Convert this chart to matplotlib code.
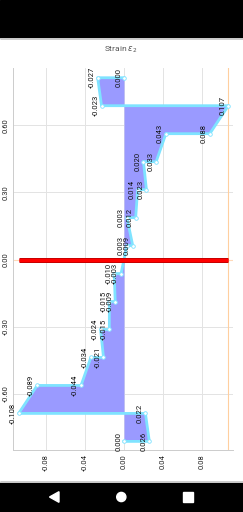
import matplotlib
matplotlib.use('Agg')
import matplotlib.pyplot as plt
from matplotlib.patches import Rectangle, Circle, Polygon

plt.rcParams['font.family'] = ['Roboto', 'DejaVu Sans']

# ply interface heights (top -> bottom) and strain eps2 at each point
heights = [0.8125, 0.8125, 0.6875, 0.6875, 0.5625, 0.5625, 0.4375, 0.4375,
           0.3125, 0.3125, 0.1875, 0.1875, 0.0625, 0.0625, -0.0625, -0.0625,
           -0.1875, -0.1875, -0.3125, -0.3125, -0.4375, -0.4375, -0.5625, -0.5625,
           -0.6875, -0.6875, -0.8125, -0.8125]
strains = [0.000, -0.027, -0.023, 0.107, 0.088, 0.043, 0.033, 0.020,
           0.023, 0.014, 0.012, 0.003, 0.009, 0.003, -0.003, -0.010,
           -0.009, -0.015, -0.015, -0.024, -0.021, -0.034, -0.044, -0.089,
           -0.108, 0.022, 0.026, 0.000]
x_ticks = [-0.08, -0.04, 0.00, 0.04, 0.08]
y_ticks = [-0.60, -0.30, 0.00, 0.30, 0.60]

W, H = 243, 512
fig = plt.figure(figsize=(W / 100, H / 100), dpi=100)

# phone chrome (status bar / nav bar)
bg = fig.add_axes([0, 0, 1, 1])
bg.set_xlim(0, W)
bg.set_ylim(H, 0)
bg.axis('off')
bg.add_patch(Rectangle((0, 0), W, 37.5, color='black'))
bg.plot([0, W], [38, 38], color='#cfcfcf', lw=0.7)
bg.add_patch(Rectangle((0, 482), W, 30, color='black'))
bg.plot([0, W], [481.5, 481.5], color='#cfcfcf', lw=0.7)
bg.add_patch(Polygon([(49.5, 497), (59, 491.7), (59, 502.3)], color='white'))
bg.add_patch(Circle((121.3, 497), 4.6, color='white'))
bg.add_patch(Rectangle((183.4, 492.3), 9.3, 9.3, color='white'))
bg.text(121, 50, r'Strain $\varepsilon_2$', ha='center', va='center',
        fontsize=6, color='#555555')

ax = fig.add_axes([13 / W, 1 - 450 / H, 220 / W, 382 / H])
ax.set_xlim(-0.1138, 0.1118)
ax.set_ylim(-0.851, 0.856)

ax.set_xticks(x_ticks)
ax.set_xticklabels(['%.2f' % v for v in x_ticks], rotation=90)
ax.set_yticks(y_ticks)
ax.set_yticklabels(['%.2f' % v for v in y_ticks], rotation=90, va='center')
ax.tick_params(length=0, labelsize=5.5, labelcolor='#222222', pad=3)
ax.grid(True, color='#e3e3e3', lw=0.7)
ax.set_axisbelow(True)
for s in ['top', 'right']:
    ax.spines[s].set_visible(False)
for s in ['left', 'bottom']:
    ax.spines[s].set_color('#cccccc')
    ax.spines[s].set_linewidth(0.7)

# limit lines
ax.axvline(max(strains), color='#ffcf9f', lw=0.8, zorder=1)
ax.axhline(0, color='#ffd9b8', lw=0.8, zorder=1)

ax.fill_betweenx(heights, 0, strains, color='#9a9aff', lw=0, zorder=2)
ax.plot(strains, heights, color='#7fe3ff', lw=2.0, marker='o', ms=2.6,
        mfc='white', mec='#7fe3ff', mew=0.6, zorder=3)

# neutral line
ax.plot([min(strains), max(strains)], [0, 0], color='#c80000', lw=3.6,
        solid_capstyle='butt', zorder=4)
ax.plot([min(strains), max(strains)], [0, 0], color='#ff0000', lw=2.2,
        solid_capstyle='butt', zorder=5)

for s, h in zip(strains, heights):
    ax.annotate('%.3f' % s, (s, h), xytext=(-4.2, 0), textcoords='offset points',
                rotation=90, ha='center', va='center', fontsize=5.5, color='#111111',
                zorder=6)

plt.savefig('out.png', dpi=100)
